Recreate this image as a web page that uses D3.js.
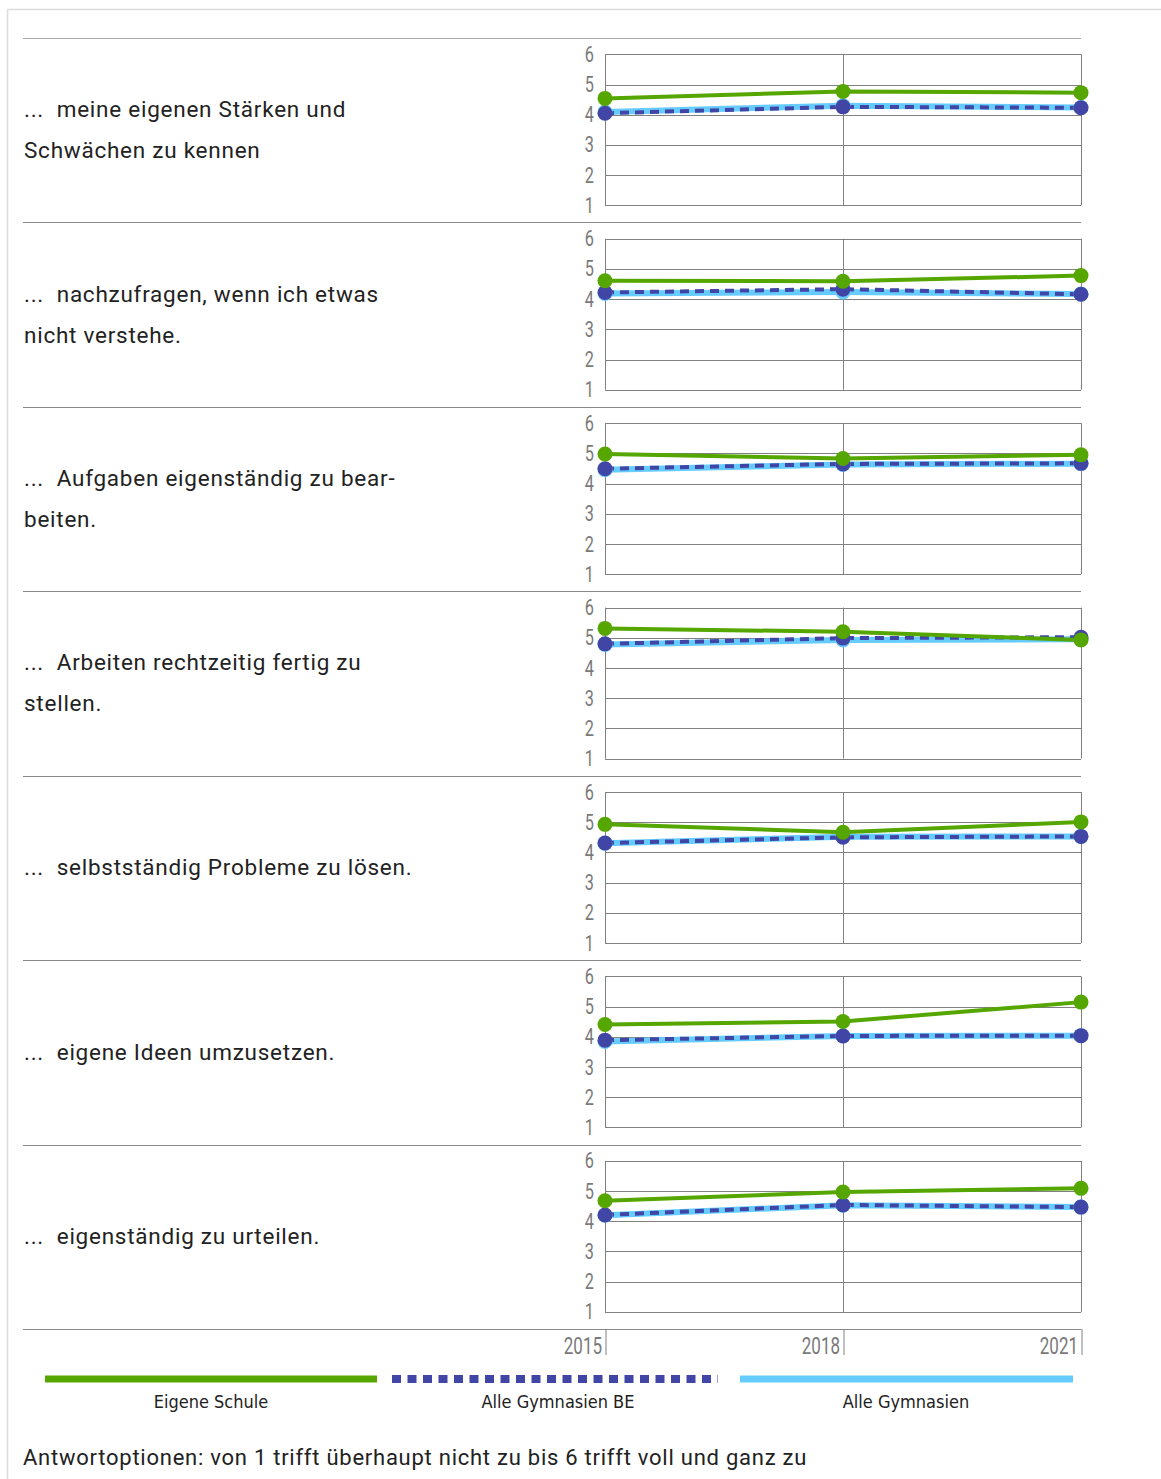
<!DOCTYPE html>
<html>
<head>
<meta charset="utf-8">
<script src="https://cdn.jsdelivr.net/npm/d3@7"></script>
<style>
  html, body { margin: 0; padding: 0; background: #fff; }
  svg { display: block; }
  .rowlabel { font-family: Roboto, "Noto Sans", sans-serif; font-size: 22.5px; letter-spacing: 0.75px; fill: #222; white-space: pre; }
  .tick text { font-family: Roboto, "Noto Sans", sans-serif; font-weight: 400; fill: #7a7a7a; }
  .leg { font-family: "Liberation Sans Narrow", "DejaVu Sans Condensed", sans-serif; font-size: 18px; fill: #222; }
  .note { font-family: Roboto, "Noto Sans", sans-serif; font-size: 22px; letter-spacing: 0.75px; fill: #222; }
</style>
</head>
<body>
<svg id="chart" width="1161" height="1479"></svg>
<script>
// ---- data ----
const years = [2015, 2018, 2021];
const categories = [
  "...  meine eigenen Stärken und\nSchwächen zu kennen",
  "...  nachzufragen, wenn ich etwas\nnicht verstehe.",
  "...  Aufgaben eigenständig zu bear-\nbeiten.",
  "...  Arbeiten rechtzeitig fertig zu\nstellen.",
  "...  selbstständig Probleme zu lösen.",
  "...  eigene Ideen umzusetzen.",
  "...  eigenständig zu urteilen."
];
const eigeneSchule = [
  [4.54, 4.77, 4.73],
  [4.61, 4.59, 4.78],
  [4.98, 4.83, 4.95],
  [5.31, 5.20, 4.93],
  [4.93, 4.67, 5.01],
  [4.41, 4.51, 5.15],
  [4.68, 4.97, 5.09]
];
const alleGymnasienBE = [
  [4.05, 4.26, 4.23],
  [4.22, 4.33, 4.16],
  [4.49, 4.65, 4.67],
  [4.80, 4.99, 5.02],
  [4.31, 4.50, 4.53],
  [3.89, 4.03, 4.04],
  [4.21, 4.54, 4.47]
];
const alleGymnasien = [
  [4.09, 4.30, 4.24],
  [4.19, 4.24, 4.17],
  [4.46, 4.63, 4.66],
  [4.78, 4.93, 4.95],
  [4.30, 4.52, 4.53],
  [3.85, 4.03, 4.04],
  [4.20, 4.53, 4.47]
];
const yTicks = [1, 2, 3, 4, 5, 6];
const seriesNames = ["Eigene Schule", "Alle Gymnasien BE", "Alle Gymnasien"];
const noteText = "Antwortoptionen: von 1 trifft überhaupt nicht zu bis 6 trifft voll und ganz zu";

// ---- layout ----
const svg = d3.select("#chart");
const GREEN = "#56a600", DARK = "#4045a6", LIGHT = "#66ccff";
const sepX0 = 23, plotL = 605, plotR = 1081;
const sep0 = 38, rowH = 184.43;
const padTop = 16.3, plotH = 151;
const narrow = 0.74;

// outer frame
svg.append("line").attr("x1", 7.5).attr("x2", 1161).attr("y1", 9.5).attr("y2", 9.5).attr("stroke", "#dcdcdc").attr("stroke-width", 1.5);
svg.append("line").attr("x1", 7.5).attr("x2", 7.5).attr("y1", 9.5).attr("y2", 1479).attr("stroke", "#dcdcdc").attr("stroke-width", 1.5);

const x = d3.scalePoint().domain(years).range([plotL, plotR]);

// separators
for (let i = 0; i <= categories.length; i++) {
  const yy = Math.round(sep0 + i * rowH) + 0.5;
  svg.append("line").attr("x1", sepX0).attr("x2", plotR).attr("y1", yy).attr("y2", yy)
    .attr("stroke", i === 0 ? "#aaa" : "#888").attr("stroke-width", 1.2);
}

const lineGen = (y) => d3.line().x((d, j) => x(years[j])).y(d => y(d));

categories.forEach((cat, i) => {
  const top = sep0 + i * rowH + padTop;
  const y = d3.scaleLinear().domain([1, 6]).range([top + plotH, top]);
  const g = svg.append("g");

  // row label
  const lines = cat.split("\n");
  const mid = sep0 + i * rowH + rowH / 2;
  const t = g.append("text").attr("class", "rowlabel").attr("x", 24);
  const lh = 41;
  lines.forEach((ln, k) => {
    t.append("tspan").attr("x", 24)
      .attr("y", mid + (k - (lines.length - 1) / 2) * lh - 0.5)
      .attr("dy", "0.35em").text(ln);
  });

  // grid
  yTicks.forEach(v => {
    g.append("line").attr("x1", plotL).attr("x2", plotR)
      .attr("y1", Math.round(y(v)) + 0.5).attr("y2", Math.round(y(v)) + 0.5)
      .attr("stroke", "#808080").attr("stroke-width", 1);
  });
  years.forEach(yr => {
    g.append("line").attr("x1", Math.round(x(yr)) + 0.5).attr("x2", Math.round(x(yr)) + 0.5)
      .attr("y1", y(6)).attr("y2", y(1))
      .attr("stroke", "#808080").attr("stroke-width", 1);
  });

  // y axis labels
  const ax = g.append("g").attr("transform", `translate(${plotL},0)`)
    .call(d3.axisLeft(y).tickValues(yTicks).tickSize(0).tickPadding(11).tickFormat(d3.format("d")));
  ax.select(".domain").remove();
  ax.selectAll(".tick text")
    .attr("x", 0)
    .attr("font-size", "22px")
    .attr("transform", `translate(-11,0) scale(${narrow},1)`);

  // series
  g.append("path").datum(alleGymnasien[i]).attr("d", lineGen(y))
    .attr("fill", "none").attr("stroke", LIGHT).attr("stroke-width", 6);
  g.append("path").datum(alleGymnasienBE[i]).attr("d", lineGen(y))
    .attr("fill", "none").attr("stroke", DARK).attr("stroke-width", 4).attr("stroke-dasharray", "9,6");
  g.append("path").datum(eigeneSchule[i]).attr("d", lineGen(y))
    .attr("fill", "none").attr("stroke", GREEN).attr("stroke-width", 4);

  g.selectAll(".pl").data(alleGymnasien[i]).join("circle")
    .attr("cx", (d, j) => x(years[j])).attr("cy", d => y(d)).attr("r", 7.5).attr("fill", LIGHT);
  g.selectAll(".pb").data(alleGymnasienBE[i]).join("circle")
    .attr("cx", (d, j) => x(years[j])).attr("cy", d => y(d)).attr("r", 7.5).attr("fill", DARK);
  g.selectAll(".pg").data(eigeneSchule[i]).join("circle")
    .attr("cx", (d, j) => x(years[j])).attr("cy", d => y(d)).attr("r", 7.5).attr("fill", GREEN);
});

// x axis
const axisY = Math.round(sep0 + categories.length * rowH);
const xa = svg.append("g").attr("transform", `translate(0.5,${axisY})`)
  .call(d3.axisBottom(x).tickSize(26).tickFormat(d3.format("d")));
xa.select(".domain").remove();
xa.selectAll(".tick line").attr("stroke", "#808080");
xa.selectAll(".tick text")
  .attr("text-anchor", "end").attr("x", 0).attr("y", 0).attr("dy", "0.35em")
  .attr("font-size", "23px")
  .attr("transform", `translate(-4,17) scale(${narrow},1)`);

// legend
const legY = 1379;
const legItems = [
  { x1: 45, x2: 377, color: GREEN, dash: null, w: 7, cx: 211 },
  { x1: 392, x2: 718, color: DARK, dash: "9,6.5", w: 8, cx: 558 },
  { x1: 740, x2: 1073, color: LIGHT, dash: null, w: 7, cx: 906 }
];
legItems.forEach((it, k) => {
  const l = svg.append("line").attr("x1", it.x1).attr("x2", it.x2).attr("y1", legY).attr("y2", legY)
    .attr("stroke", it.color).attr("stroke-width", it.w);
  if (it.dash) l.attr("stroke-dasharray", it.dash);
  svg.append("text").attr("class", "leg").attr("x", it.cx).attr("y", 1402).attr("dy", "0.35em")
    .attr("text-anchor", "middle").text(seriesNames[k]);
});

svg.append("text").attr("class", "note").attr("x", 23).attr("y", 1457).attr("dy", "0.35em").text(noteText);
</script>
</body>
</html>
